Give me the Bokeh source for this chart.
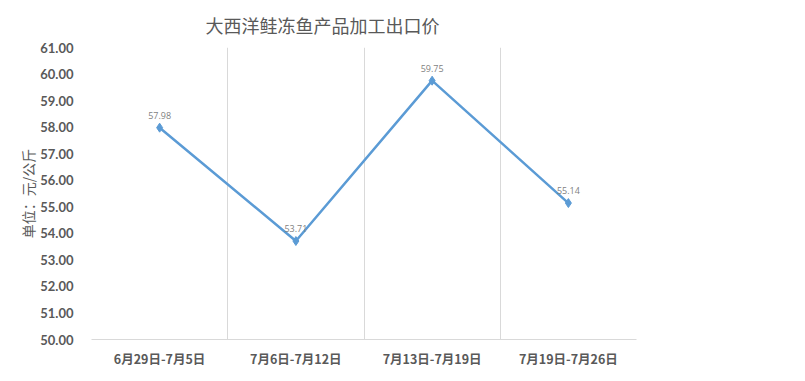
from bokeh.plotting import figure
from bokeh.models import FixedTicker, Range1d, Grid, ColumnDataSource, Title, PrintfTickFormatter
from bokeh.core.properties import value
from bokeh.embed import file_html
from bokeh.resources import INLINE

categories = ["6月29日-7月5日", "7月6日-7月12日", "7月13日-7月19日", "7月19日-7月26日"]
prices = [57.98, 53.71, 59.75, 55.14]
y_ticks = [50, 51, 52, 53, 54, 55, 56, 57, 58, 59, 60, 61]

xs = [i + 0.5 for i in range(len(categories))]
src = ColumnDataSource(dict(x=xs, y=prices, lab=["%.2f" % v for v in prices]))

p = figure(width=805, height=381, output_backend="svg", toolbar_location=None,
           x_range=Range1d(0, len(categories)), y_range=Range1d(50, 61),
           min_border_left=91, min_border_right=169, min_border_top=8, min_border_bottom=42)
p.outline_line_color = None
p.background_fill_color = "white"
p.border_fill_color = "white"

p.title = Title(text="大西洋鲑冻鱼产品加工出口价", align="left", offset=114,
                text_font="Noto Sans CJK SC", text_font_size="18px", text_font_style="normal",
                text_color="#595959", standoff=19)

p.xgrid.visible = False
p.ygrid.visible = False
vg = Grid(dimension=0, ticker=FixedTicker(ticks=list(range(len(categories) + 1))),
          grid_line_color="#d9d9d9", grid_line_width=1)
p.add_layout(vg)

p.xaxis.ticker = FixedTicker(ticks=xs)
p.xaxis.major_label_overrides = {x: c for x, c in zip(xs, categories)}
p.xaxis.major_tick_line_color = None
p.xaxis.minor_tick_line_color = None
p.xaxis.axis_line_color = "#d9d9d9"
p.xaxis.major_label_text_font = "Noto Sans CJK SC"
p.xaxis.major_label_text_font_style = "bold"
p.xaxis.major_label_text_font_size = "12.5px"
p.xaxis.major_label_text_color = "#595959"
p.xaxis.major_label_standoff = 3

p.yaxis.ticker = FixedTicker(ticks=y_ticks)
p.yaxis.formatter = PrintfTickFormatter(format="%.2f")
p.yaxis.major_tick_line_color = None
p.yaxis.minor_tick_line_color = None
p.yaxis.axis_line_color = None
p.yaxis.major_label_text_font = "Lato"
p.yaxis.major_label_text_font_style = "bold"
p.yaxis.major_label_text_font_size = "13px"
p.yaxis.major_label_text_color = "#595959"
p.yaxis.major_label_standoff = 12
p.yaxis.axis_label = "单位：元/公斤"
p.yaxis.axis_label_text_font = "Noto Sans CJK SC"
p.yaxis.axis_label_text_font_style = "normal"
p.yaxis.axis_label_text_font_size = "14px"
p.yaxis.axis_label_text_color = "#595959"
p.yaxis.axis_label_standoff = -1

p.line("x", "y", source=src, line_color="#5B9BD5", line_width=2.5)
p.scatter("x", "y", source=src, marker="diamond", size=9, fill_color="#5B9BD5", line_color="#5B9BD5")
p.text("x", "y", text="lab", source=src, text_align="center", text_baseline="bottom",
       y_offset=-9, text_font=value("Open Sans"), text_font_size="9px", text_color="#7f7f7f")

open("out.html", "w").write(file_html(p, INLINE))
